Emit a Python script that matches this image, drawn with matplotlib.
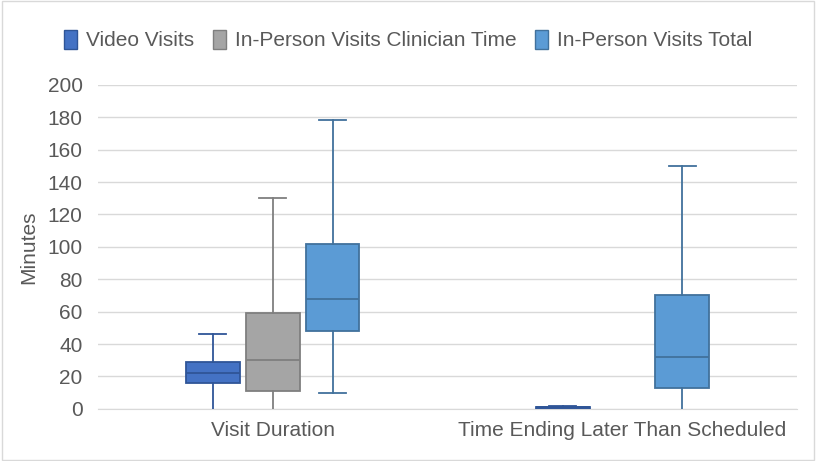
import matplotlib.pyplot as plt
from matplotlib.patches import Patch

plt.rcParams['font.family'] = ['Liberation Sans', 'DejaVu Sans']

categories = ['Visit Duration', 'Time Ending Later Than Scheduled']
series = ['Video Visits', 'In-Person Visits Clinician Time', 'In-Person Visits Total']

# per series, per category: whisker low, q1, median, q3, whisker high (None = no data)
video_low = [0, 0]
video_q1 = [16, 0]
video_med = [22, 1]
video_q3 = [29, 1]
video_high = [46, 2]

clin_low = [0, None]
clin_q1 = [11, None]
clin_med = [30, None]
clin_q3 = [59, None]
clin_high = [130, None]

total_low = [10, 0]
total_q1 = [48, 13]
total_med = [68, 32]
total_q3 = [102, 70]
total_high = [178, 150]

yticks = list(range(0, 201, 20))

fills = ['#4472C4', '#A5A5A5', '#5B9BD5']
edges = ['#2F5597', '#7F7F7F', '#41719C']
text_col = '#595959'

fig = plt.figure(figsize=(8.16, 4.61), dpi=100)
ax = fig.add_axes([0.120, 0.113, 0.857, 0.703])

data = [
    (video_low, video_q1, video_med, video_q3, video_high),
    (clin_low, clin_q1, clin_med, clin_q3, clin_high),
    (total_low, total_q1, total_med, total_q3, total_high),
]
offsets = [-0.171, 0, 0.171]
width = 0.154

for s, (lo, q1, med, q3, hi) in enumerate(data):
    stats = []
    pos = []
    for c in range(len(categories)):
        if med[c] is None:
            continue
        stats.append(dict(whislo=lo[c], q1=q1[c], med=med[c], q3=q3[c], whishi=hi[c], fliers=[]))
        pos.append(c + offsets[s])
    parts = ax.bxp(stats, positions=pos, widths=width, patch_artist=True, showfliers=False,
                   boxprops=dict(facecolor=fills[s], edgecolor=edges[s], linewidth=1.3),
                   medianprops=dict(color=edges[s], linewidth=1.3),
                   whiskerprops=dict(color=edges[s], linewidth=1.3),
                   capprops=dict(color=edges[s], linewidth=1.3),
                   capwidths=width / 2, manage_ticks=False, zorder=3)
    # lower caps sitting on the axis are hidden in the original
    for k, st in enumerate(stats):
        if st['whislo'] == 0:
            parts['caps'][2 * k].set_visible(False)

ax.set_xlim(-0.5, 1.5)
ax.set_ylim(0, 200)
ax.set_yticks(yticks)
ax.set_xticks(range(len(categories)))
ax.set_xticklabels(categories)
ax.tick_params(axis='both', length=0, labelsize=15, colors=text_col)
ax.tick_params(axis='x', pad=9)
ax.tick_params(axis='y', pad=11)
ax.yaxis.grid(True, color='#D9D9D9', linewidth=1)
ax.set_axisbelow(True)
for side in ['top', 'right', 'left']:
    ax.spines[side].set_visible(False)
ax.spines['bottom'].set_color('#D9D9D9')
ax.set_ylabel('Minutes', fontsize=15, color=text_col, labelpad=7)

handles = [Patch(facecolor=fills[i], edgecolor=edges[i], label=series[i]) for i in range(3)]
fig.legend(handles=handles, loc='center', bbox_to_anchor=(0.5, 0.913), ncol=3, frameon=False,
           fontsize=15, labelcolor=text_col, handlelength=0.65, handleheight=1.0,
           handletextpad=0.4, columnspacing=0.9)

fig.patches.append(plt.Rectangle((0.002, 0.003), 0.996, 0.994, transform=fig.transFigure,
                                 fill=False, edgecolor='#D9D9D9', linewidth=1))

fig.savefig('out.png', dpi=100)
